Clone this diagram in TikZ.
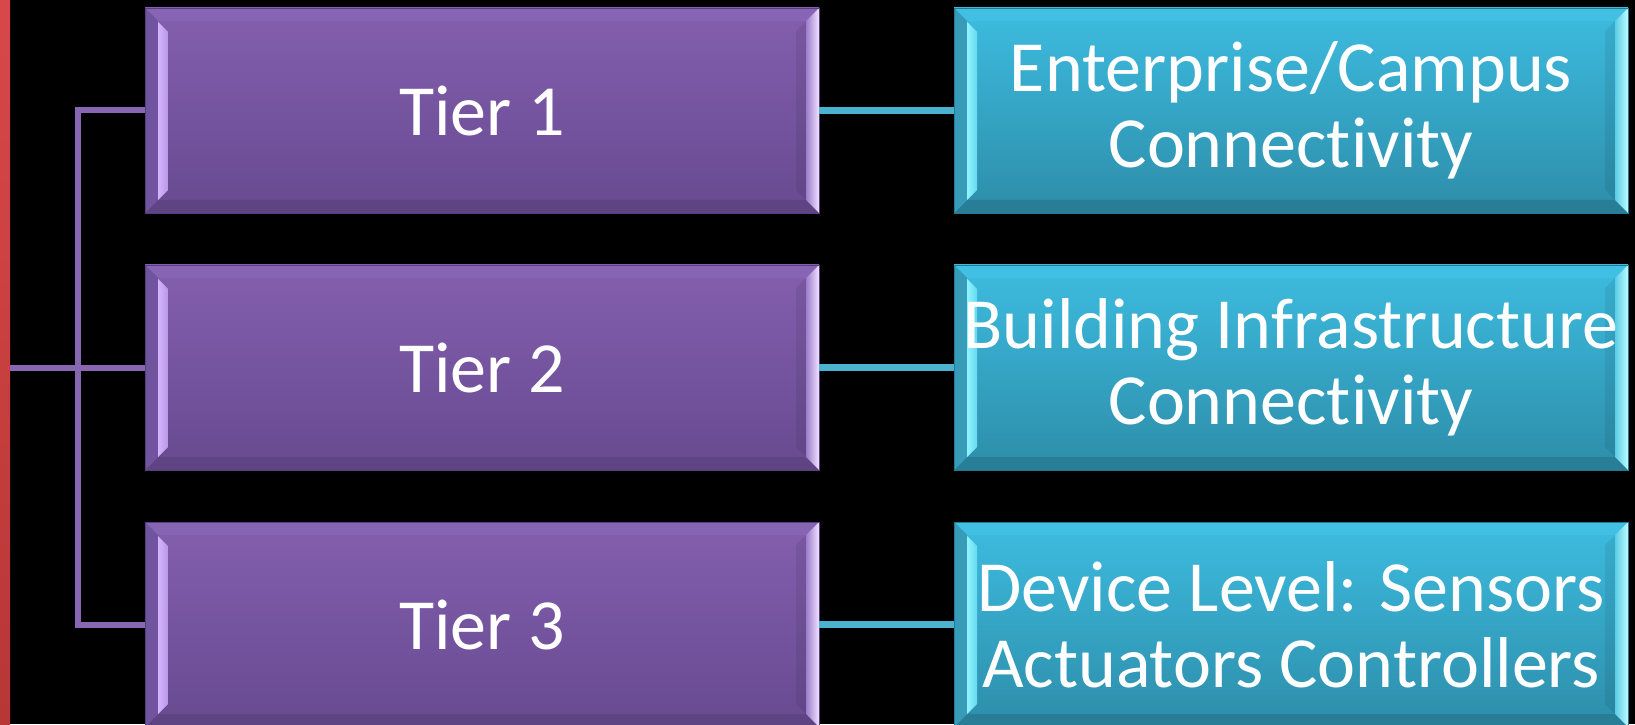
\documentclass[tikz,border=0pt]{standalone}
\usepackage{fontspec}
\setmainfont{Carlito}[Ligatures={NoCommon,NoRare,NoContextual}]
\usetikzlibrary{calc}

% palette
\definecolor{pTop}{HTML}{845FAF}
\definecolor{pBot}{HTML}{674A90}
\definecolor{pEdge}{HTML}{573E7C}
\definecolor{pTopFace}{HTML}{8864B4}
\definecolor{pLeftFace}{HTML}{7054A0}
\definecolor{pHiA}{HTML}{D4B4FF}
\definecolor{pHiB}{HTML}{B896E6}
\definecolor{pRightIn}{HTML}{9C7CCB}
\definecolor{pRightOut}{HTML}{F2E2FF}
\definecolor{pBotFace}{HTML}{5E4483}
\definecolor{pLine}{HTML}{8767B2}

\definecolor{cTop}{HTML}{3DBCE0}
\definecolor{cBot}{HTML}{2D8DA9}
\definecolor{cEdge}{HTML}{257A92}
\definecolor{cTopFace}{HTML}{42C0E4}
\definecolor{cLeftFace}{HTML}{369CBA}
\definecolor{cHiA}{HTML}{90F4FF}
\definecolor{cHiB}{HTML}{66D8EE}
\definecolor{cRightIn}{HTML}{5CCCE6}
\definecolor{cRightOut}{HTML}{BCFCFF}
\definecolor{cBotFace}{HTML}{287E97}
\definecolor{cLine}{HTML}{4BB3CF}

\definecolor{barTop}{HTML}{D84848}
\definecolor{barBot}{HTML}{B83636}

% bevelled faces of a box, drawn inside its path picture
% #1 top face, #2 left face, #3/#4 left highlight, #5/#6 right face, #7 bottom face
\newcommand\bevelfaces[7]{%
  \coordinate (bvSW) at (path picture bounding box.south west);
  \coordinate (bvNE) at (path picture bounding box.north east);
  \coordinate (bvTL) at (bvSW |- bvNE);
  \coordinate (bvBR) at (bvNE |- bvSW);
  \fill[#1] (bvTL) -- (bvNE) -- ($(bvNE)+(-13pt,-13pt)$) -- ($(bvTL)+(13pt,-13pt)$) -- cycle;
  \fill[#7] (bvSW) -- (bvBR) -- ($(bvBR)+(-13pt,13pt)$) -- ($(bvSW)+(13pt,13pt)$) -- cycle;
  \fill[#2] (bvTL) -- ($(bvTL)+(13pt,-13pt)$) -- ($(bvSW)+(13pt,13pt)$) -- (bvSW) -- cycle;
  \shade[left color=#3, right color=#4]
    ($(bvTL)+(13pt,-14pt)$) -- ($(bvTL)+(23pt,-24pt)$) -- ($(bvSW)+(23pt,23pt)$) -- ($(bvSW)+(13pt,13pt)$) -- cycle;
  \fill[black, opacity=0.07]
    ($(bvNE)+(-23pt,-23pt)$) -- ($(bvNE)+(-13pt,-13pt)$) -- ($(bvBR)+(-13pt,13pt)$) -- ($(bvBR)+(-23pt,23pt)$) -- cycle;
  \shade[left color=#5, right color=#6]
    ($(bvNE)+(-13pt,-13pt)$) -- (bvNE) -- (bvBR) -- ($(bvBR)+(-13pt,13pt)$) -- cycle;
}

\tikzset{
  boxbase/.style={minimum width=674pt, minimum height=205pt, inner sep=0pt,
    line width=0.8pt, text=white, align=center,
    font=\fontsize{72}{76}\selectfont},
  tierbox/.style={boxbase, top color=pTop, bottom color=pBot, draw=pEdge,
    path picture={\bevelfaces{pTopFace}{pLeftFace}{pHiA}{pHiB}{pRightIn}{pRightOut}{pBotFace}}},
  scopebox/.style={boxbase, top color=cTop, bottom color=cBot, draw=cEdge,
    path picture={\bevelfaces{cTopFace}{cLeftFace}{cHiA}{cHiB}{cRightIn}{cRightOut}{cBotFace}}},
  redbar/.style={minimum width=10pt, minimum height=724pt, inner sep=0pt,
    top color=barTop, bottom color=barBot},
  tierlink/.style={draw=pLine, line width=6pt},
  scopelink/.style={draw=cLine, line width=6.5pt},
}

\begin{document}
\begin{tikzpicture}[x=1pt, y=1pt]
  \fill[black] (0,0) rectangle (1635,724);
  \useasboundingbox (0,0) rectangle (1635,724);

  \node[redbar] (bar) at (5,362) {};

  \node[tierbox] (t1) at (482,613.5) {Tier 1};
  \node[tierbox] (t2) at (482,356.5) {Tier 2};
  \node[tierbox] (t3) at (482,99.5)  {Tier 3};

  \node[scopebox] (c1) at (1291,613.5) {Enterprise/Campus\\Connectivity};
  \node[scopebox] (c2) at (1291,356.5) {Building Infrastructure\\Connectivity};
  \node[scopebox] (c3) at (1291,99.5)  {Device Level: Sensors\\Actuators Controllers};

  % tree from the red bar to the three tiers
  \draw[tierlink] (bar.east |- t2.west) -- (t2.west);
  \draw[tierlink] (t1.west) -- ++(-66.5,0) |- (t3.west);

  % each tier to its scope
  \draw[scopelink] (t1.east) -- (c1.west);
  \draw[scopelink] (t2.east) -- (c2.west);
  \draw[scopelink] (t3.east) -- (c3.west);
\end{tikzpicture}
\end{document}
